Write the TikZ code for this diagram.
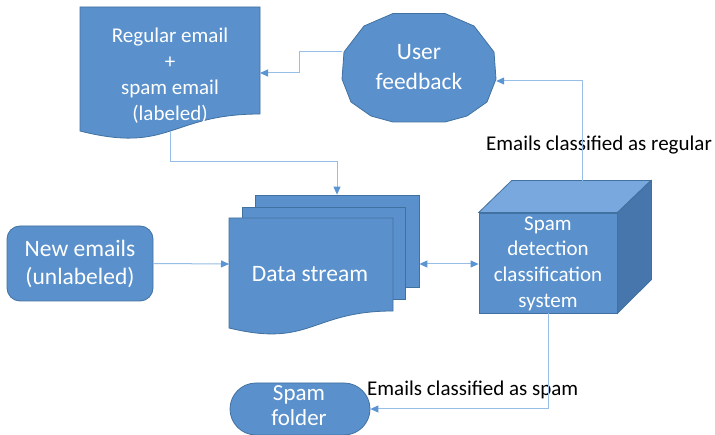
\documentclass[tikz,border=0pt]{standalone}
\usepackage{fontspec}
\setmainfont{Carlito}
\usetikzlibrary{arrows.meta,calc}
\definecolor{boxfill}{RGB}{90,145,204}
\definecolor{boxline}{RGB}{65,113,160}
\definecolor{cubetop}{RGB}{120,168,222}
\definecolor{cuberight}{RGB}{70,118,172}
\definecolor{connline}{RGB}{150,190,230}
\definecolor{tipc}{RGB}{91,148,210}
\tikzset{
  shapefill/.style={fill=boxfill, draw=boxline, line width=0.8pt},
  wtext/.style={text=white, align=center, inner sep=0pt},
  lbl/.style={text=black, inner sep=0pt, font=\fontsize{21}{26}\selectfont},
  conn/.style={draw=connline, line width=1pt, -{Triangle[length=8pt,width=7pt,color=tipc]}},
  conn2/.style={draw=connline, line width=1pt, {Triangle[length=8pt,width=7pt,color=tipc]}-{Triangle[length=8pt,width=7pt,color=tipc]}},
}
\begin{document}
\begin{tikzpicture}[x=1pt,y=-1pt]
\useasboundingbox (0,0) rectangle (715,435);
\clip (0,0) rectangle (715,435);
\fill[white] (0,0) rectangle (715,435);

% labeled emails document
\path[shapefill] (80,7) -- (260,7) -- (260,114) .. controls (170,114) and (170,154) .. (80,131) -- cycle;
\node[wtext, font=\fontsize{21}{26}\selectfont] (doc) at (170,76) {Regular email\\+\\spam email\\(labeled)};
\coordinate (docR) at (260,73);
\coordinate (docB) at (170,131);

% user feedback polygon
\path[shapefill] (445,13.5) -- (474,26) -- (494,52) -- (496,79) -- (487,102) -- (467,116) -- (445,122)
  -- (393,122) -- (371,116) -- (351,102) -- (342,79) -- (344,52) -- (364,26) -- (393,13.5) -- cycle;
\node[wtext, font=\fontsize{23.5}{30}\selectfont, minimum width=154, minimum height=108] (fb) at (419,67.5) {User\\feedback};

% new emails
\node[shapefill, rounded corners=13pt, minimum width=146, minimum height=75, inner sep=0pt,
      text=white, align=center, font=\fontsize{23.5}{28}\selectfont] (new) at (80,263.5) {New emails\\(unlabeled)};

% data stream (multi-document)
\node[shapefill, minimum width=164, minimum height=92, inner sep=0pt] (ds3) at (337,241) {};
\node[shapefill, minimum width=163, minimum height=92, inner sep=0pt] (ds2) at (323.5,253) {};
\path[shapefill] (229,218) -- (393,218) -- (393,311) .. controls (311,311) and (311,348) .. (229,328) -- cycle;
\node[wtext, font=\fontsize{23.5}{28}\selectfont] (ds) at (310,274) {Data stream};
\coordinate (dsW) at (229,264);

% spam detection cube
\node[shapefill, minimum width=138, minimum height=100, inner sep=0pt] (cube) at (548,263) {};
\path[fill=cubetop, draw=boxline, line width=0.8pt] (cube.north west) -- ++(33,-32) -- ++(139,0) -- (cube.north east) -- cycle;
\path[fill=cuberight, draw=boxline, line width=0.8pt] (cube.north east) -- ++(34,-32) -- ++(0,99) -- (cube.south east) -- cycle;
\node[wtext, font=\fontsize{21}{25.7}\selectfont] (cubetxt) at (548,263.5) {Spam\\detection\\classification\\system};
\coordinate (cubeTop) at (582,181);

% spam folder
\node[shapefill, rounded corners=26pt, minimum width=140, minimum height=52, inner sep=0pt] (spam) at (300,409) {};
\node[wtext, font=\fontsize{23}{25}\selectfont] (spamtxt) at (299,406) {Spam\\folder};

% labels
\node[lbl, anchor=west] (lreg) at (486,145) {Emails classified as regular};
\node[lbl, anchor=west] (lspam) at (367,390) {Emails classified as spam};

% connectors
\draw[conn] ([yshift=16pt]fb.west) -- ++(-42,0) |- (docR);
\draw[conn] (docB) -- ++(0,31) -| (ds3.north);
\draw[conn] (new.east) -- (dsW);
\draw[conn2] (ds3.east |- dsW) -- (cube.west |- dsW);
\draw[conn] (cubeTop) |- ([yshift=-13.5pt]fb.east);
\draw[conn] (cube.south) |- (spam.east);
\end{tikzpicture}
\end{document}
